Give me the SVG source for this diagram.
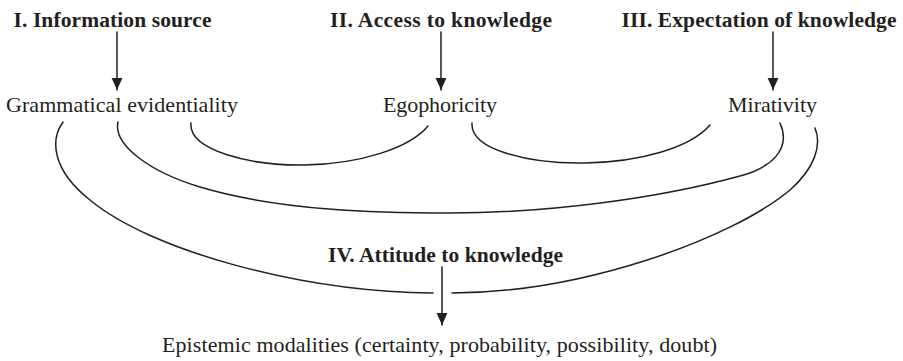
<svg xmlns="http://www.w3.org/2000/svg" width="903" height="361" viewBox="0 0 903 361">
<style>
text{font-family:"Liberation Serif","Times New Roman",serif;font-size:22px;fill:#231f20;text-anchor:middle}
.h{font-weight:bold;font-size:21.5px}
.c{fill:none;stroke:#231f20;stroke-width:1.5;stroke-linecap:round}
</style>
<defs>
<marker id="ah" markerUnits="userSpaceOnUse" markerWidth="12" markerHeight="12" viewBox="0 0 10 10" refX="10" refY="5" orient="auto">
<path d="M0,0.5 L10,5 L0,9.5 Z" fill="#231f20"/>
</marker>
</defs>
<g id="n1"><text class="h" x="112.5" y="26.5" textLength="198">I. Information source</text></g>
<g id="n2"><text class="h" x="441" y="26.5" textLength="222">II. Access to knowledge</text></g>
<g id="n3"><text class="h" x="759" y="26.5" textLength="275">III. Expectation of knowledge</text></g>
<g id="n4"><text x="122" y="112" textLength="232">Grammatical evidentiality</text></g>
<g id="n5"><text x="440" y="112" textLength="114">Egophoricity</text></g>
<g id="n6"><text x="772.5" y="112" textLength="89">Mirativity</text></g>
<g id="n7"><text class="h" x="445.5" y="262" textLength="235">IV. Attitude to knowledge</text></g>
<g id="n8"><text x="439.5" y="352" textLength="555">Epistemic modalities (certainty, probability, possibility, doubt)</text></g>
<g id="connectors">
<path class="c" d="M117,32 V90" marker-end="url(#ah)"/>
<path class="c" d="M441,32 V90" marker-end="url(#ah)"/>
<path class="c" d="M773,32 V90" marker-end="url(#ah)"/>
<path class="c" d="M442,267 V325" marker-end="url(#ah)"/>
<path class="c" d="M191,123 C188,150 250,166 305,165 C360,164 410,148 428,126"/>
<path class="c" d="M472,123 C470,150 530,164 585,163 C640,162 690,148 710,125"/>
<path class="c" d="M118,122 C113,145 150,172 200,187 C280,211 380,213 450,213 C550,213 660,198 740,176 C770,168 792,150 780,123"/>
<path class="c" d="M63,122 C50,140 52,170 90,200 C150,250 300,292 433,293"/>
<path class="c" d="M452,293 C580,293 730,240 790,190 C815,168 822,145 815,128"/>
</g>
</svg>
